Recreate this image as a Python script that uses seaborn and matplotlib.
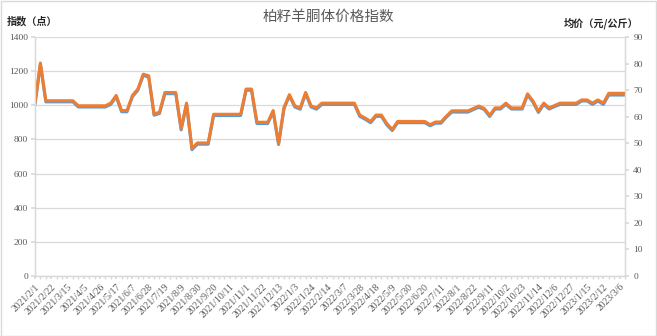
import numpy as np
import pandas as pd
import matplotlib
matplotlib.use("Agg")
import matplotlib.pyplot as plt
import seaborn as sns
from matplotlib.patches import Rectangle

title = "柏籽羊胴体价格指数"
left_label = "指数（点）"
right_label = "均价（元/公斤）"

date_labels = ["2021/2/1", "2021/2/22", "2021/3/15", "2021/4/5", "2021/4/26", "2021/5/17",
               "2021/6/7", "2021/6/28", "2021/7/19", "2021/8/9", "2021/8/30", "2021/9/20",
               "2021/10/11", "2021/11/1", "2021/11/22", "2021/12/13", "2022/1/3", "2022/1/24",
               "2022/2/14", "2022/3/7", "2022/3/28", "2022/4/18", "2022/5/9", "2022/5/30",
               "2022/6/20", "2022/7/11", "2022/8/1", "2022/8/22", "2022/9/11", "2022/10/2",
               "2022/10/23", "2022/11/14", "2022/12/6", "2022/12/27", "2023/1/15", "2023/2/12",
               "2023/3/6"]

index_vals = [1005, 1240, 1020, 1020, 1020, 1020, 1020, 1020, 990, 990,
              990, 990, 990, 990, 1005, 1050, 962, 962, 1050, 1088,
              1175, 1165, 942, 952, 1068, 1068, 1068, 856, 1005, 740,
              772, 772, 772, 940, 940, 940, 940, 940, 940, 1088,
              1088, 893, 893, 893, 962, 770, 980, 1055, 990, 977,
              1068, 990, 977, 1005, 1005, 1005, 1005, 1005, 1005, 1005,
              935, 918, 898, 935, 935, 885, 852, 898, 898, 898,
              898, 898, 898, 880, 895, 895, 930, 960, 960, 960,
              960, 975, 988, 975, 934, 978, 978, 1005, 978, 978,
              978, 1060, 1018, 958, 1005, 978, 992, 1005, 1005, 1005,
              1005, 1025, 1025, 1005, 1025, 1005, 1060, 1060, 1060, 1060]

price_vals = [65.1, 80.2, 66.0, 66.0, 66.0, 66.0, 66.0, 66.0, 64.1, 64.1,
              64.1, 64.1, 64.1, 64.1, 65.1, 68.0, 62.3, 62.3, 68.0, 70.4,
              76.0, 75.4, 61.0, 61.7, 69.1, 69.1, 69.1, 55.5, 65.1, 48.0,
              50.1, 50.1, 50.1, 60.9, 60.9, 60.9, 60.9, 60.9, 60.9, 70.4,
              70.4, 57.9, 57.9, 57.9, 62.3, 49.9, 63.5, 68.3, 64.1, 63.3,
              69.1, 64.1, 63.3, 65.1, 65.1, 65.1, 65.1, 65.1, 65.1, 65.1,
              60.6, 59.5, 58.2, 60.6, 60.6, 57.4, 55.2, 58.2, 58.2, 58.2,
              58.2, 58.2, 58.2, 57.0, 58.0, 58.0, 60.2, 62.2, 62.2, 62.2,
              62.2, 63.1, 64.0, 63.1, 60.5, 63.3, 63.3, 65.1, 63.3, 63.3,
              63.3, 68.6, 65.9, 62.0, 65.1, 63.3, 64.2, 65.1, 65.1, 65.1,
              65.1, 66.3, 66.3, 65.1, 66.3, 65.1, 68.8, 68.8, 68.8, 68.8]

sns.set_theme(style="white")
plt.rcParams['font.family'] = ['Noto Sans CJK SC', 'DejaVu Sans']

W, H = 657, 336
fig = plt.figure(figsize=(W / 100, H / 100), dpi=100)
fig.patch.set_facecolor("white")
ax = fig.add_axes([35 / W, 60 / H, 590 / W, 239 / H])
ax2 = ax.twinx()

x = np.arange(len(index_vals))
df = pd.DataFrame({"x": x, "index": index_vals, "price": price_vals})

sns.lineplot(data=df, x="x", y="index", ax=ax, color="#5B9BD5", linewidth=2.2)
sns.lineplot(data=df, x="x", y="price", ax=ax2, color="#ED7D31", linewidth=2.2)

grid_c = "#d9d9d9"
txt_c = "#595959"
serif = ["Liberation Serif", "DejaVu Serif"]

ax.set_xlim(0, len(x) - 1)
ax.set_ylim(0, 1400)
ax2.set_ylim(0, 90)
ax.set_yticks(range(0, 1401, 200))
ax2.set_yticks(range(0, 91, 10))
ax.set_xticks(x[::3][:len(date_labels)])
ax.set_xticklabels(date_labels, rotation=45, ha="right", va="top",
                   rotation_mode="anchor", fontsize=7, family=serif, color=txt_c)
ax.set_xticks(x, minor=True)
for lab in ax.get_yticklabels():
    lab.set_family(serif)
for lab in ax2.get_yticklabels():
    lab.set_family(serif)

ax.set_xlabel("")
ax.set_ylabel("")
ax2.set_xlabel("")
ax2.set_ylabel("")

ax.grid(False)
ax2.grid(False)
ax.yaxis.grid(True, color=grid_c, linewidth=0.9)

for a in (ax, ax2):
    a.spines["top"].set_visible(False)
    for s in ("left", "right", "bottom"):
        a.spines[s].set_color(grid_c)
        a.spines[s].set_linewidth(0.9)

ax.tick_params(axis="y", which="major", left=True, length=3, color=grid_c,
               labelsize=6.8, labelcolor=txt_c, pad=2)
ax2.tick_params(axis="y", which="major", right=True, length=3, color=grid_c,
                labelsize=6.8, labelcolor=txt_c, pad=3)
ax.tick_params(axis="x", which="major", bottom=True, length=2.5, color=grid_c, pad=2)
ax.tick_params(axis="x", which="minor", bottom=True, length=2.5, color=grid_c)

fig.text(0.5, 1 - 17 / H, title, ha="center", va="center", fontsize=10.5, color=txt_c)
fig.text(7 / W, 1 - 21.5 / H, left_label, ha="left", va="center", fontsize=7.3,
         fontweight="bold", color="#262626")
fig.text(638 / W, 1 - 23 / H, right_label, ha="right", va="center", fontsize=7.3,
         fontweight="bold", color="#262626")

fig.patches.append(Rectangle((0.5 / W, 0.5 / H), 1 - 1.5 / W, 1 - 1.5 / H,
                             transform=fig.transFigure, fill=False,
                             edgecolor=grid_c, linewidth=1))

fig.savefig("out.png", dpi=100, facecolor="white")
